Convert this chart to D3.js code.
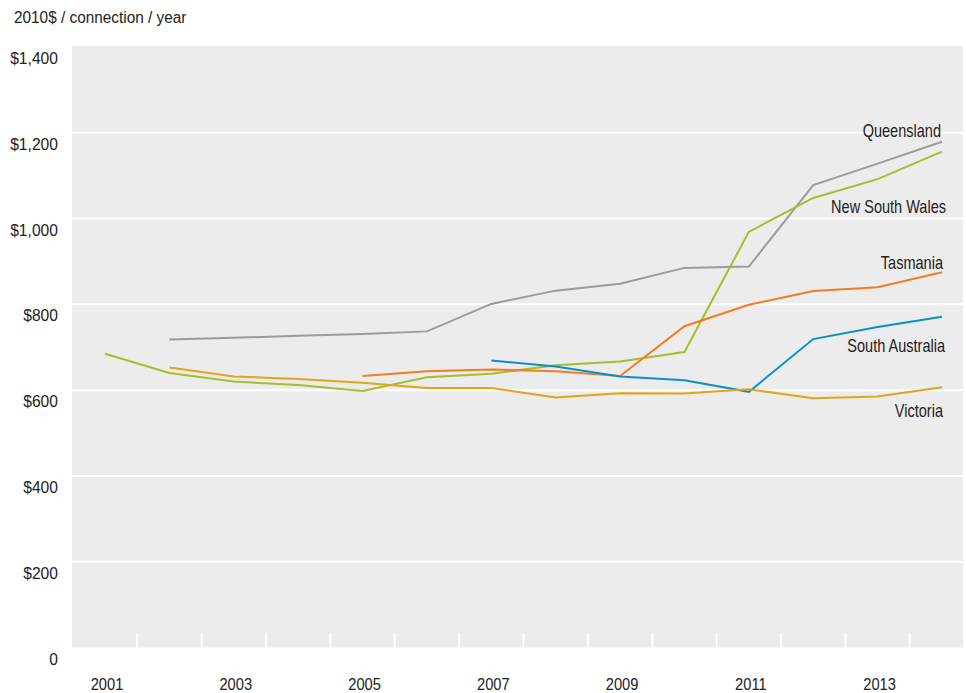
<!DOCTYPE html>
<html><head><meta charset="utf-8">
<script src="https://cdn.jsdelivr.net/npm/d3@7"></script>
<style>
body{margin:0;background:#fff;}
text{font-family:"Liberation Sans",Arial,sans-serif;fill:#222;}
</style></head>
<body><svg id="c" width="966" height="693"></svg>
<script>
const years = [2001,2002,2003,2004,2005,2006,2007,2008,2009,2010,2011,2012,2013,2014];
const tickYears = [2001,2003,2005,2007,2009,2011,2013];
const yTicks = [0,200,400,600,800,1000,1200,1400];
const queensland = [null,718,722,727,731,737,801,832,848,885,888,1078,1128,1179];
const nsw = [685,640,620,612,598,630,638,658,667,689,969,1048,1092,1156];
const victoria = [null,653,632,626,617,605,605,583,593,592,602,581,585,607];
const tasmania = [null,null,null,null,633,644,648,644,633,749,799,831,840,875];
const southAustralia = [null,null,null,null,null,null,669,655,632,623,596,719,747,771];

const series = [
  {name:"Queensland", values:queensland, color:"#9b9b9d", label:[941,137]},
  {name:"New South Wales", values:nsw, color:"#a4bf2e", label:[946,213]},
  {name:"Tasmania", values:tasmania, color:"#f47b20", label:[943,269]},
  {name:"South Australia", values:southAustralia, color:"#0b8fc9", label:[945,352]},
  {name:"Victoria", values:victoria, color:"#e2a41a", label:[943,417]}
];

const svg = d3.select("#c");
const L=72, R=963, T=47, B=647.5;
const x = d3.scaleLinear().domain([2001,2014]).range([105,942]);
const y = d3.scaleLinear().domain([0,1400]).range([B,T]);

function label(g, tx, ty, str, size, sx, anchor, fill){
  return g.append("text").attr("transform",`translate(${tx},${ty}) scale(${sx},1)`)
    .attr("font-size",size).attr("text-anchor",anchor||"start").attr("fill",fill||"#222").text(str);
}

svg.append("rect").attr("x",L).attr("y",46).attr("width",R-L).attr("height",B-46).attr("fill","#ececec");

// gridlines
svg.append("g").selectAll("line").data(yTicks.filter(d=>d>0&&d<1400)).join("line")
  .attr("x1",L).attr("x2",R).attr("y1",d=>y(d)).attr("y2",d=>y(d))
  .attr("stroke","#fff").attr("stroke-width",2);

// x ticks at half years
const halfTicks = d3.range(2001.5,2014,1);
svg.append("g").selectAll("line").data(halfTicks).join("line")
  .attr("x1",d=>x(d)).attr("x2",d=>x(d)).attr("y1",633).attr("y2",B)
  .attr("stroke","#fff").attr("stroke-width",2);

// y labels
const gy = svg.append("g");
yTicks.forEach(d=>label(gy,58,y(d)+17,d===0?"0":d3.format("$,")(d),17,0.92,"end"));

// x labels
const gx = svg.append("g");
tickYears.forEach(d=>label(gx,x(d)+2,690,String(d),16.3,0.9,"middle"));

label(svg,14,23,"2010$ / connection / year",16,0.96,"start");

const line = d3.line().defined(d=>d.v!=null).x(d=>x(d.year)).y(d=>y(d.v));
series.forEach(s=>{
  const pts = years.map((yr,i)=>({year:yr,v:s.values[i]}));
  svg.append("path").datum(pts).attr("d",line).attr("fill","none")
    .attr("stroke",s.color).attr("stroke-width",2);
  label(svg,s.label[0],s.label[1],s.name,17.5,0.83,"end","#2a2a2a");
});
</script></body></html>
